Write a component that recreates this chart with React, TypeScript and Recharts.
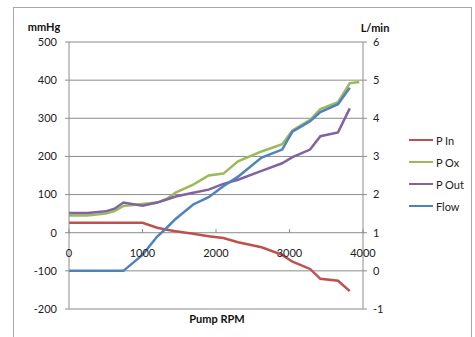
import {
  CartesianGrid,
  Line,
  LineChart,
  XAxis,
  YAxis,
} from "recharts";

// pump speed, one point per reading
const rpm = [0, 250, 500, 620, 740, 1000, 1200, 1330, 1450, 1690, 1900, 2100, 2300, 2620, 2900, 3040, 3280, 3420, 3660, 3820, 3950];
const pIn = [26, 26, 26, 26, 26, 26, 13, 8, 4, -3, -9, -14, -25, -38, -58, -76, -95, -121, -126, -153, null];
const pOx = [45, 45, 50, 57, 70, 75, 79, 89, 105, 126, 150, 155, 187, 213, 232, 268, 296, 324, 342, 392, 395];
const pOut = [52, 52, 56, 63, 79, 71, 79, 87, 95, 105, 113, 128, 139, 162, 182, 198, 218, 253, 263, 326, null];
const flow = [0, 0, 0, 0, 0, 0.42, 0.9, 1.13, 1.36, 1.74, 1.93, 2.22, 2.47, 2.97, 3.18, 3.65, 3.92, 4.16, 4.37, 4.8, null];

const xTicks = [0, 1000, 2000, 3000, 4000];
const leftTicks = [-200, -100, 0, 100, 200, 300, 400, 500];
const rightTicks = [-1, 0, 1, 2, 3, 4, 5, 6];

const SERIES = [
  { key: "pIn", name: "P In", color: "#C0504D" },
  { key: "pOx", name: "P Ox", color: "#9BBB59" },
  { key: "pOut", name: "P Out", color: "#8064A2" },
  { key: "flow", name: "Flow", color: "#4F81BD" },
];

const data = rpm.map((r, i) => ({
  rpm: r,
  pIn: pIn[i],
  pOx: pOx[i],
  pOut: pOut[i],
  flow: flow[i],
}));

const FONT = "Lato, 'Liberation Sans', sans-serif";
const GRID = "#8c8c8c";
const PLOT_H = 266;
// x axis crosses at 0 mmHg, i.e. 200 of the 700 units above the bottom
const ZERO_UP = (PLOT_H * 200) / 700;

const XTick = (props: any) => {
  const { x, y, payload } = props;
  const zy = y - ZERO_UP;
  return (
    <g>
      <line x1={x} x2={x} y1={zy - 4} y2={zy} stroke={GRID} />
      <text
        x={x}
        y={zy + 24}
        textAnchor="middle"
        fontSize={11}
        fontFamily={FONT}
        fill="#222"
      >
        {payload.value}
      </text>
    </g>
  );
};

const title: React.CSSProperties = {
  position: "absolute",
  fontFamily: FONT,
  fontSize: 11,
  fontWeight: 700,
  color: "#111",
  transform: "translateX(-50%)",
  whiteSpace: "nowrap",
};

export default function App() {
  return (
    <div
      style={{
        position: "absolute",
        left: 13,
        top: 7,
        width: 459,
        height: 335,
        border: "1px solid #a6a6a6",
        boxSizing: "border-box",
        background: "#fff",
      }}
    >
      <LineChart
        width={457}
        height={335}
        data={data}
        margin={{ top: 35, right: 67, left: 0, bottom: 13 }}
        style={{ position: "absolute", left: -1, top: -1 }}
      >
        <CartesianGrid vertical={false} stroke={GRID} yAxisId="left" />
        <XAxis
          dataKey="rpm"
          type="number"
          domain={[0, 4000]}
          ticks={xTicks}
          axisLine={false}
          tickLine={false}
          tickSize={0}
          tickMargin={0}
          height={20}
          tick={<XTick />}
        />
        <YAxis
          yAxisId="left"
          domain={[-200, 500]}
          ticks={leftTicks}
          width={56}
          axisLine={{ stroke: GRID }}
          tickLine={{ stroke: GRID }}
          tickSize={4}
          tickMargin={8}
          tick={{ fontSize: 11, fontFamily: FONT, fill: "#222" }}
          interval={0}
        />
        <YAxis
          yAxisId="right"
          orientation="right"
          domain={[-1, 6]}
          ticks={rightTicks}
          width={40}
          axisLine={{ stroke: GRID }}
          tickLine={{ stroke: GRID }}
          tickSize={4}
          tickMargin={6}
          tick={{ fontSize: 11, fontFamily: FONT, fill: "#222" }}
          interval={0}
        />
        {SERIES.map((s) => (
          <Line
            key={s.key}
            yAxisId={s.key === "flow" ? "right" : "left"}
            dataKey={s.key}
            name={s.name}
            stroke={s.color}
            strokeWidth={2.5}
            dot={false}
            type="linear"
            isAnimationActive={false}
          />
        ))}
      </LineChart>

      <div style={{ ...title, left: 30, top: 12 }}>mmHg</div>
      <div style={{ ...title, left: 361, top: 13 }}>L/min</div>
      <div style={{ ...title, left: 203, top: 304 }}>Pump RPM</div>

      <div style={{ position: "absolute", left: 395, top: 121 }}>
        {SERIES.map((s) => (
          <div
            key={s.key}
            style={{
              display: "flex",
              alignItems: "center",
              height: 22,
              fontFamily: FONT,
              fontSize: 11,
              color: "#222",
            }}
          >
            <span
              style={{
                width: 24,
                height: 2.5,
                background: s.color,
                marginRight: 3,
              }}
            />
            {s.name}
          </div>
        ))}
      </div>
    </div>
  );
}
